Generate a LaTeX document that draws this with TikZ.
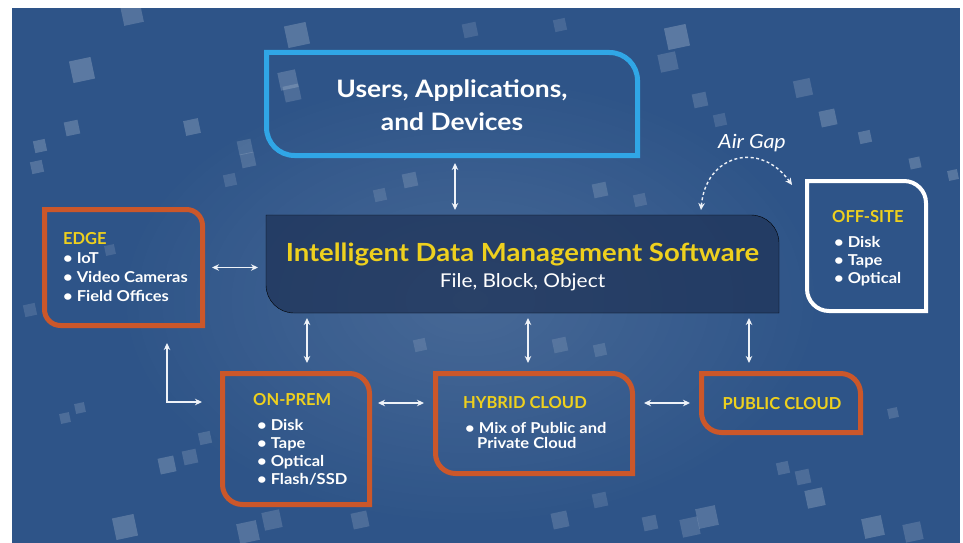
\documentclass[tikz,border=0pt]{standalone}
\usepackage{fontspec}
\setmainfont{Lato}[FakeStretch=1.1]
\newfontfamily\titlefam{Lato}
\usetikzlibrary{arrows.meta,fadings}
\definecolor{bgblue}{RGB}{46,84,136}
\definecolor{edgeorange}{RGB}{203,87,42}
\definecolor{titleyellow}{RGB}{238,208,30}
\definecolor{skyline}{RGB}{48,166,230}
\definecolor{softfill}{RGB}{30,50,86}
\definecolor{arrowwhite}{RGB}{238,242,248}
\tikzfading[name=glowfade, inner color=transparent!0, outer color=transparent!100]
\newcommand\cutbox[3]{\draw[#2] (#1.north west) -- ([xshift=-#3]#1.north east) arc[start angle=90,end angle=0,radius=#3] -- (#1.south east) -- ([xshift=#3]#1.south west) arc[start angle=270,end angle=180,radius=#3] -- cycle;}
\tikzset{
  frame/.style={draw=none, inner sep=0pt, outer sep=0pt, rectangle},
  orangebox/.style={draw=edgeorange, line width=5pt},
  dbl/.style={draw=arrowwhite, line width=1.4pt, arrows={Stealth[length=7pt,width=6.5pt]-Stealth[length=7pt,width=6.5pt]}},
  dashdbl/.style={draw=arrowwhite, line width=1.4pt, dash pattern=on 3pt off 2.5pt, arrows={Stealth[length=7pt,width=6.5pt]-Stealth[length=7pt,width=6.5pt]}},
  ttl/.style={inner sep=0pt, text=titleyellow, font=\titlefam\bfseries\fontsize{16.5}{19}\selectfont},
  itm/.style={inner sep=0pt, text=white, font=\bfseries\fontsize{15}{17}\selectfont},
  sq/.style={fill=white}
}
\begin{document}
\begin{tikzpicture}[x=1pt,y=-1pt]
\useasboundingbox (0,0) rectangle (963,543);
\fill[white] (0,0) rectangle (963,543);
\fill[bgblue] (12,8) rectangle (960,543);
% background glow and squares
\fill[white, opacity=0.12, path fading=glowfade] (470,300) ellipse [x radius=360pt, y radius=230pt];
\foreach \x/\y/\s/\o in {132/14/20/0.18, 82/70/22/0.22, 297/35/22/0.2, 288/80/18/0.18, 292/93/16/0.15,
  192/127/15/0.2, 72/128/14/0.2, 40/146/12/0.2, 37/167/12/0.18, 245/147/14/0.15, 248/160/14/0.15,
  677/37/22/0.22, 668/62/18/0.15, 803/88/17/0.15, 828/118/16/0.2, 865/137/12/0.2, 915/163/11/0.2, 953/175/10/0.2,
  65/418/10/0.15, 80/408/10/0.15, 167/465/16/0.2, 190/457/14/0.15, 205/438/12/0.15, 125/527/22/0.2,
  248/532/20/0.18, 272/520/18/0.15, 893/413/10/0.15, 815/498/18/0.2, 873/527/20/0.2, 913/532/18/0.15,
  803/477/14/0.15, 783/468/12/0.15, 707/517/20/0.18, 690/527/18/0.15, 650/523/14/0.15,
  110/250/10/0.12, 410/180/14/0.15, 380/195/12/0.12, 600/190/14/0.15, 640/200/12/0.12, 560/345/14/0.12,
  600/350/12/0.12, 420/345/12/0.12, 360/520/16/0.15, 560/520/16/0.15, 600/500/14/0.12, 30/310/12/0.12,
  700/100/14/0.15, 720/120/12/0.12, 230/180/12/0.12, 470/30/14/0.12, 560/25/12/0.12}
  {\fill[sq, opacity=\o, rotate around={12:(\x,\y)}] ({\x-\s/2},{\y-\s/2}) rectangle ++(\s,\s);}
% frames
\node[frame, minimum width=371pt, minimum height=103pt] (users) at (452,104) {};
\node[frame, minimum width=513pt, minimum height=98pt] (soft) at (522.5,264) {};
\node[frame, minimum width=158pt, minimum height=116pt] (edge) at (123.5,267.5) {};
\node[frame, minimum width=119pt, minimum height=130pt] (offsite) at (866.5,246) {};
\node[frame, minimum width=147pt, minimum height=131pt] (onprem) at (296,439) {};
\node[frame, minimum width=197pt, minimum height=100pt] (hybrid) at (534,423.5) {};
\node[frame, minimum width=159pt, minimum height=59pt] (public) at (781,403) {};
\cutbox{soft}{fill=softfill, fill opacity=0.72}{28pt}
\cutbox{users}{draw=skyline, line width=5pt}{28pt}
\cutbox{edge}{orangebox}{16pt}
\cutbox{offsite}{draw=white, line width=4pt}{22pt}
\cutbox{onprem}{orangebox}{20pt}
\cutbox{hybrid}{orangebox}{20pt}
\cutbox{public}{orangebox}{20pt}
% texts
\node[inner sep=0pt, text=white, font=\bfseries\fontsize{24}{27}\selectfont, anchor=base] (users1) at (452,97) {Users, Applications,};
\node[inner sep=0pt, text=white, font=\bfseries\fontsize{24}{27}\selectfont, anchor=base] (users2) at (452,130) {and Devices};
\node[inner sep=0pt, text=titleyellow, font=\bfseries\fontsize{25}{28}\selectfont, anchor=base] (soft1) at (522.5,261) {Intelligent Data Management Software};
\node[inner sep=0pt, text=white, font=\fontsize{19}{22}\selectfont, anchor=base] (soft2) at (522.5,287) {File, Block, Object};
\node[ttl, anchor=base west] (edget) at (63,244) {EDGE};
\node[itm, anchor=base west] (edge1) at (63,263) {• IoT};
\node[itm, anchor=base west] (edge2) at (63,282) {• Video Cameras};
\node[itm, anchor=base west] (edge3) at (63,301) {• Field Offices};
\node[ttl, anchor=base west] (offt) at (832,222) {OFF-SITE};
\node[itm, anchor=base west] (off1) at (834,247) {• Disk};
\node[itm, anchor=base west] (off2) at (834,265) {• Tape};
\node[itm, anchor=base west] (off3) at (834,283) {• Optical};
\node[ttl, anchor=base west] (onpt) at (253,405) {ON-PREM};
\node[itm, anchor=base west] (onp1) at (257,430) {• Disk};
\node[itm, anchor=base west] (onp2) at (257,448) {• Tape};
\node[itm, anchor=base west] (onp3) at (257,466) {• Optical};
\node[itm, anchor=base west] (onp4) at (257,484) {• Flash/SSD};
\node[ttl, anchor=base west] (hybt) at (463,408) {HYBRID CLOUD};
\node[itm, anchor=base west] (hyb1) at (465,433) {• Mix of Public and};
\node[itm, anchor=base west] (hyb2) at (477,448) {Private Cloud};
\node[ttl, anchor=base] (pubt) at (782,409) {PUBLIC CLOUD};
\node[inner sep=0pt, text=white, font=\itshape\fontsize{19.5}{22}\selectfont, anchor=base] (airgap) at (752,148) {Air Gap};
% connectors
\draw[dbl, shorten <=7.5pt, shorten >=5pt] ([xshift=3pt]users.south) -- ([xshift=3pt]users.south |- soft.north);
\draw[dbl, shorten <=9.5pt, shorten >=8pt] (edge.east) -- (edge.east -| soft.west);
\draw[dbl] ([xshift=-35.5pt,yshift=-17.5pt]edge.south east) |- ([xshift=-20.5pt,yshift=-28.5pt]onprem.north west);
\draw[dbl, shorten <=5pt, shorten >=10.5pt] ([xshift=11pt]onprem.north |- soft.south) -- ([xshift=11pt]onprem.north);
\draw[dbl, shorten <=5pt, shorten >=10.5pt] ([xshift=-6pt]hybrid.north |- soft.south) -- ([xshift=-6pt]hybrid.north);
\draw[dbl, shorten <=5pt, shorten >=10.5pt] ([xshift=-32pt]public.north |- soft.south) -- ([xshift=-32pt]public.north);
\draw[dbl, shorten <=8.5pt, shorten >=11.5pt] ([yshift=-29.5pt]onprem.north east) -- ([yshift=-29.5pt]onprem.north east -| hybrid.west);
\draw[dbl, shorten <=11.5pt, shorten >=11.5pt] ([yshift=-29.5pt]hybrid.north east) -- ([yshift=-29.5pt]hybrid.north east -| public.west);
\draw[dashdbl] ([xshift=-78pt,yshift=5pt]soft.north east) to[bend left=70, looseness=1.5] ([xshift=-15pt,yshift=-4pt]offsite.north west);
\end{tikzpicture}
\end{document}
